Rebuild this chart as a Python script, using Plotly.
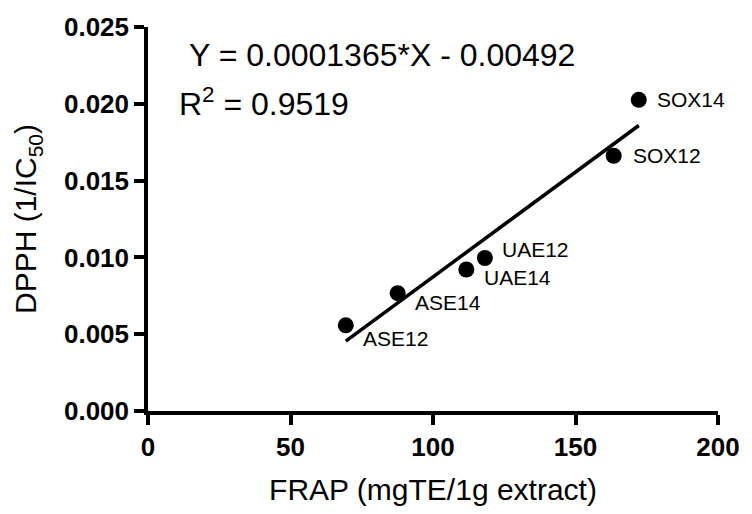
import plotly.graph_objects as go

# FRAP vs DPPH scavenging for each extract
samples = ["ASE12", "ASE14", "UAE14", "UAE12", "SOX12", "SOX14"]
frap = [69.4, 87.6, 111.7, 118.2, 163.4, 172.2]
dpph = [0.00558, 0.00767, 0.00921, 0.00996, 0.01662, 0.02026]

# linear regression reported on the chart
slope = 0.0001365
intercept = -0.00492
r_squared = 0.9519

x_ticks = [0, 50, 100, 150, 200]
y_ticks = [0.000, 0.005, 0.010, 0.015, 0.020, 0.025]

# label offsets (px) relative to each point
label_dx = [15, 15, 16, 15, 17, 16]
label_dy = [-13, -9, -8, 9, 0, 0]

FONT = "Arial, Liberation Sans, Helvetica, sans-serif"

fit_x = [min(frap), max(frap)]
fit_y = [slope * v + intercept for v in fit_x]

fig = go.Figure()
fig.add_trace(go.Scatter(
    x=fit_x, y=fit_y, mode="lines",
    line=dict(color="black", width=3.5),
    showlegend=False, hoverinfo="skip",
))
fig.add_trace(go.Scatter(
    x=frap, y=dpph, mode="markers",
    marker=dict(color="black", size=16),
    showlegend=False,
))

for name, xv, yv, dx, dy in zip(samples, frap, dpph, label_dx, label_dy):
    fig.add_annotation(
        x=xv, y=yv, text=name, showarrow=False,
        xanchor="left", yanchor="middle", xshift=dx, yshift=dy,
        font=dict(family=FONT, size=21, color="black"),
    )

fig.add_annotation(
    x=13.6, y=0.0232, xref="x", yref="y",
    text=f"Y = {slope:.7f}*X - {abs(intercept):.5f}",
    showarrow=False, xanchor="left", yanchor="middle",
    font=dict(family=FONT, size=32, color="black"),
)
fig.add_annotation(
    x=10.0, y=0.0201, xref="x", yref="y",
    text=f"R<sup>2</sup> = {r_squared:.4f}",
    showarrow=False, xanchor="left", yanchor="middle",
    font=dict(family=FONT, size=32, color="black"),
)

axis_common = dict(
    showgrid=False, zeroline=False,
    showline=True, linecolor="black", linewidth=3.5,
    ticks="outside", ticklen=10, tickwidth=3.5, tickcolor="black",
    tickfont=dict(family=FONT, size=26, color="black", weight="bold"),
)

fig.update_layout(
    width=752, height=514,
    margin=dict(l=148, r=30, t=21, b=102),
    paper_bgcolor="white", plot_bgcolor="white",
    xaxis=dict(
        range=[0, 200], tickvals=x_ticks,
        ticktext=[str(v) for v in x_ticks],
        title=dict(text="FRAP (mgTE/1g extract)",
                   font=dict(family=FONT, size=30, color="black"),
                   standoff=19),
        **axis_common,
    ),
    yaxis=dict(
        range=[0, 0.025], tickvals=y_ticks,
        ticktext=[f"{v:.3f}" for v in y_ticks],
        title=dict(text="DPPH (1/IC<sub>50</sub>)",
                   font=dict(family=FONT, size=30, color="black"),
                   standoff=19),
        **axis_common,
    ),
)

fig.write_html("out.html")
